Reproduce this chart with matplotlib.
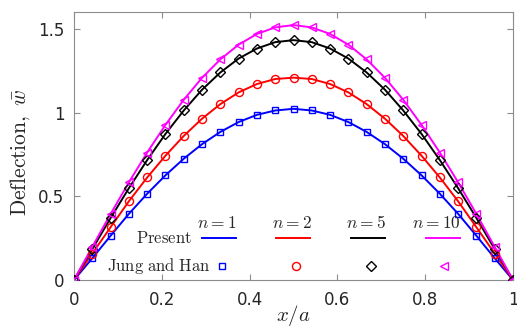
import numpy as np
import matplotlib
matplotlib.use("Agg")
import matplotlib.pyplot as plt

plt.rcParams['mathtext.fontset'] = 'cm'

# x positions (x/a) of the sampled points
x_pts = [0, 1/24, 2/24, 3/24, 4/24, 5/24, 6/24, 7/24, 8/24, 9/24, 10/24, 11/24, 12/24,
         13/24, 14/24, 15/24, 16/24, 17/24, 18/24, 19/24, 20/24, 21/24, 22/24, 23/24, 1]

# Deflection values (symmetric about x/a = 0.5)
w_n1 = [0, 0.130, 0.264, 0.395, 0.515, 0.625, 0.724, 0.811, 0.884, 0.943, 0.986, 1.012, 1.022,
        1.012, 0.986, 0.943, 0.884, 0.811, 0.724, 0.625, 0.515, 0.395, 0.264, 0.130, 0]
w_n2 = [0, 0.158, 0.315, 0.470, 0.612, 0.742, 0.860, 0.963, 1.050, 1.120, 1.170, 1.200, 1.208,
        1.200, 1.170, 1.120, 1.050, 0.963, 0.860, 0.742, 0.612, 0.470, 0.315, 0.158, 0]
w_n5 = [0, 0.185, 0.370, 0.548, 0.716, 0.872, 1.012, 1.136, 1.239, 1.322, 1.382, 1.420, 1.432,
        1.420, 1.382, 1.322, 1.239, 1.136, 1.012, 0.872, 0.716, 0.548, 0.370, 0.185, 0]
w_n10 = [0, 0.198, 0.394, 0.583, 0.761, 0.926, 1.076, 1.207, 1.317, 1.405, 1.469, 1.508, 1.522,
         1.508, 1.469, 1.405, 1.317, 1.207, 1.076, 0.926, 0.761, 0.583, 0.394, 0.198, 0]

series = [w_n1, w_n2, w_n5, w_n10]
n_labels = [r'$n=1$', r'$n=2$', r'$n=5$', r'$n=10$']
colors = ['#0000ff', '#ff0000', '#000000', '#ff00ff']
markers = ['s', 'o', 'D', '<']
msizes = [4.5, 5.8, 4.8, 6.2]

xticks = [0, 0.2, 0.4, 0.6, 0.8, 1]
xtick_labels = ['0', '0.2', '0.4', '0.6', '0.8', '1']
yticks = [0, 0.5, 1, 1.5]
ytick_labels = ['0', '0.5', '1', '1.5']

W, H = 517, 333
fig = plt.figure(figsize=(W / 100, H / 100), dpi=100)
ax = fig.add_axes([74 / W, (H - 280) / H, (513 - 74) / W, (280 - 12) / H])

for ys, c, m, ms in zip(series, colors, markers, msizes):
    ax.plot(x_pts, ys, color=c, lw=1.4, zorder=2)
    ax.plot(x_pts, ys, ls='none', marker=m, ms=ms, mfc='none', mec=c, mew=1.0, zorder=3)

ax.set_xlim(0, 1)
ax.set_ylim(0, 1.6)
ax.set_xticks(xticks)
ax.set_xticklabels(xtick_labels)
ax.set_yticks(yticks)
ax.set_yticklabels(ytick_labels)

gray = '#262626'
for s in ax.spines.values():
    s.set_color('#8c8c8c')
    s.set_linewidth(0.8)
ax.tick_params(direction='in', length=4, width=0.8, color='#8c8c8c', top=True, right=True,
               labelsize=12, labelcolor=gray)
ax.tick_params(axis='x', pad=8)
ax.tick_params(axis='y', pad=7)
for lab in ax.get_xticklabels() + ax.get_yticklabels():
    lab.set_family('DejaVu Sans')

ax.set_xlabel(r'$x/a$', fontsize=15, color=gray)
ax.set_ylabel(r'$\mathrm{Deflection,}\ \bar{w}$', fontsize=15.5, color=gray)


# Custom legend (MATLAB style), placed in pixel-derived axes fractions
def fx(px):
    return (px - 74) / (513 - 74)


def fy(py):
    return (280 - py) / (280 - 12)


ax.xaxis.set_label_coords(fx(293), fy(316))
ax.yaxis.set_label_coords(fx(20), fy(152))
ax.xaxis.label.set_va('center')
ax.yaxis.label.set_va('center')

tr = ax.transAxes
ax.text(fx(192), fy(238), r'$\mathrm{Present}$', transform=tr, ha='right', va='center',
        fontsize=12, color=gray)
ax.text(fx(211), fy(266), r'$\mathrm{Jung\ and\ Han}$', transform=tr, ha='right', va='center',
        fontsize=12, color=gray)
line_centers = [219, 293, 368, 443]
marker_centers = [222, 296, 371, 444]
header_centers = [217, 292, 366, 436]
for lc, mc, hc, c, m, ms, lab in zip(line_centers, marker_centers, header_centers,
                                     colors, markers, msizes, n_labels):
    ax.plot([fx(lc - 17), fx(lc + 17)], [fy(238), fy(238)], transform=tr, color=c, lw=1.4,
            clip_on=False)
    ax.plot([fx(mc)], [fy(266)], transform=tr, ls='none', marker=m, ms=ms, mfc='none',
            mec=c, mew=1.0, clip_on=False)
    ax.text(fx(hc), fy(223), lab, transform=tr, ha='center', va='center', fontsize=12.5,
            color=gray)

fig.savefig('out.png', dpi=100)
